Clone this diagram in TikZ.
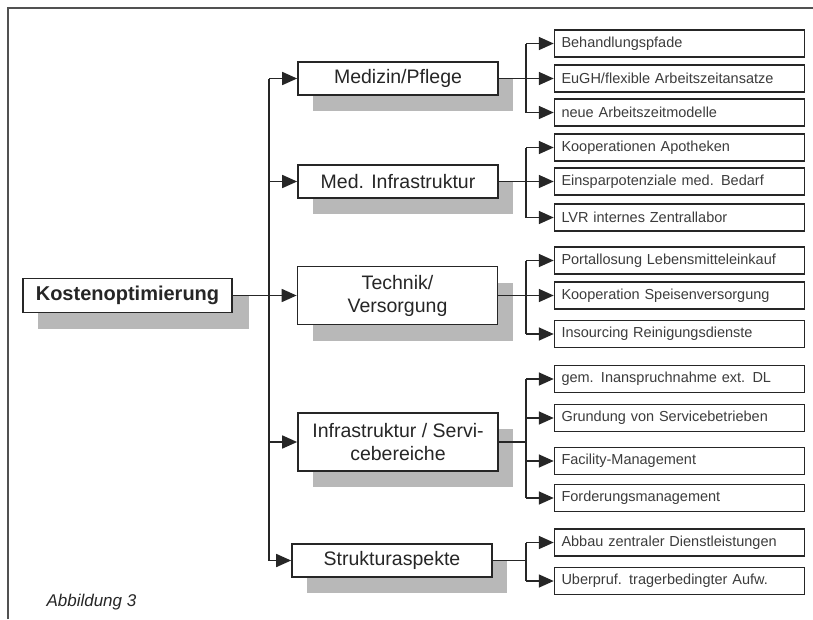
\documentclass[tikz,border=0pt]{standalone}
\usepackage{fontspec}
\setmainfont{Liberation Sans}
\usetikzlibrary{arrows.meta,shadows}
\definecolor{ink}{HTML}{262626}
\definecolor{shade}{HTML}{B8B8B8}

\begin{document}
\begin{tikzpicture}[x=1pt, y=-1pt,
        mainbox/.style={rectangle, draw=ink, fill=white, line width=1.7pt,
          minimum width=200pt, minimum height=33pt, inner sep=2pt,
          align=center, text=ink, font=\fontsize{19.5}{23}\selectfont,
        drop shadow={shadow xshift=15pt, shadow yshift=-16pt, fill=shade, opacity=1}},
        leaf/.style={rectangle, draw=ink, fill=white, line width=1.5pt,
          minimum width=250pt, minimum height=27pt, text width=236pt,
          inner xsep=7pt, inner ysep=0pt, align=left, text=ink!90,
        font=\fontsize{14.5}{16}\selectfont},
        conn/.style={ink, line width=1.7pt},
        arr/.style={conn, -{Triangle[length=15pt, width=13pt]}},
      ]
      \useasboundingbox (0,0) rectangle (813,619);

      % =================== FRAME ===================
      \draw[ink!80, line width=1.6pt] (8,619) -- (8,8) -- (813,8);
      \node[anchor=base west, text=ink, font=\itshape\fontsize{17}{19}\selectfont]
      (caption) at (43,606) {Abbildung 3};

      % =================== ROOT ===================
      \node[mainbox, minimum width=209pt, minimum height=34pt,
        font=\bfseries\fontsize{20}{24}\selectfont,
      drop shadow={shadow xshift=17pt, shadow yshift=-16pt, fill=shade, opacity=1}]
      (kosten) at (127.5,295.5) {Kostenoptimierung};

      % =================== MAIN AREAS ===================
      \node[mainbox] (medizin) at (398,78.5) {Medizin/Pflege};
      \node[mainbox] (medinfra) at (398,181.5) {Med. Infrastruktur};
      \node[mainbox, minimum height=58pt] (technik) at (397.5,295.5) {Technik/\\Versorgung};
      \node[mainbox, minimum height=58pt] (service) at (398,442) {Infrastruktur / Servi-\\cebereiche};
      \node[mainbox] (struktur) at (392,560.5) {Strukturaspekte};

      % =================== MEASURES ===================
      \node[leaf] (behand) at (679.5,43.5) {Behandlungspfade};
      \node[leaf] (eugh) at (679.5,78.5) {EuGH/flexible Arbeitszeitansatze};
      \node[leaf] (neue) at (679.5,112.5) {neue Arbeitszeitmodelle};

      \node[leaf] (apotheken) at (679.5,147.5) {Kooperationen Apotheken};
      \node[leaf] (bedarf) at (679.5,181.5) {Einsparpotenziale med. Bedarf};
      \node[leaf] (labor) at (679.5,217.5) {LVR internes Zentrallabor};

      \node[leaf] (portal) at (679.5,260.5) {Portallosung Lebensmitteleinkauf};
      \node[leaf] (speisen) at (679.5,295.5) {Kooperation Speisenversorgung};
      \node[leaf] (reinigung) at (679.5,334) {Insourcing Reinigungsdienste};

      \node[leaf] (extdl) at (679.5,379) {gem. Inanspruchnahme ext. DL};
      \node[leaf] (gruendung) at (679.5,418) {Grundung von Servicebetrieben};
      \node[leaf] (facility) at (679.5,461) {Facility-Management};
      \node[leaf] (forderung) at (679.5,498) {Forderungsmanagement};

      \node[leaf] (abbau) at (679.5,542.5) {Abbau zentraler Dienstleistungen};
      \node[leaf] (pruefung) at (679.5,581) {Uberpruf. tragerbedingter Aufw.};

      % =================== CONNECTIONS ===================
      \coordinate (trunk) at (269,295.5);
      \coordinate (fork) at (526,295.5);

      % root to main areas
      \draw[conn] (trunk |- medizin.west) -- (trunk |- struktur.west);
      \draw[arr] (kosten.east) -- (technik.west);
      \draw[arr] (trunk |- medizin.west) -- (medizin.west);
      \draw[arr] (trunk |- medinfra.west) -- (medinfra.west);
      \draw[arr] (trunk |- service.west) -- (service.west);
      \draw[arr] (trunk |- struktur.west) -- (struktur.west);

      % Medizin/Pflege
      \draw[conn] (fork |- behand.west) -- (fork |- neue.west);
      \draw[arr] (medizin.east) -- (eugh.west);
      \draw[arr] (fork |- behand.west) -- (behand.west);
      \draw[arr] (fork |- neue.west) -- (neue.west);

      % Med. Infrastruktur
      \draw[conn] (fork |- apotheken.west) -- (fork |- labor.west);
      \draw[arr] (medinfra.east) -- (bedarf.west);
      \draw[arr] (fork |- apotheken.west) -- (apotheken.west);
      \draw[arr] (fork |- labor.west) -- (labor.west);

      % Technik/Versorgung
      \draw[conn] (fork |- portal.west) -- (fork |- reinigung.west);
      \draw[arr] (technik.east) -- (speisen.west);
      \draw[arr] (fork |- portal.west) -- (portal.west);
      \draw[arr] (fork |- reinigung.west) -- (reinigung.west);

      % Infrastruktur / Servicebereiche
      \draw[conn] (service.east) -- (fork |- service.east);
      \draw[conn] (fork |- extdl.west) -- (fork |- forderung.west);
      \draw[arr] (fork |- extdl.west) -- (extdl.west);
      \draw[arr] (fork |- gruendung.west) -- (gruendung.west);
      \draw[arr] (fork |- facility.west) -- (facility.west);
      \draw[arr] (fork |- forderung.west) -- (forderung.west);

      % Strukturaspekte
      \draw[conn] (struktur.east) -- (fork |- struktur.east);
      \draw[conn] (fork |- abbau.west) -- (fork |- pruefung.west);
      \draw[arr] (fork |- abbau.west) -- (abbau.west);
      \draw[arr] (fork |- pruefung.west) -- (pruefung.west);

    \end{tikzpicture}
\end{document}
